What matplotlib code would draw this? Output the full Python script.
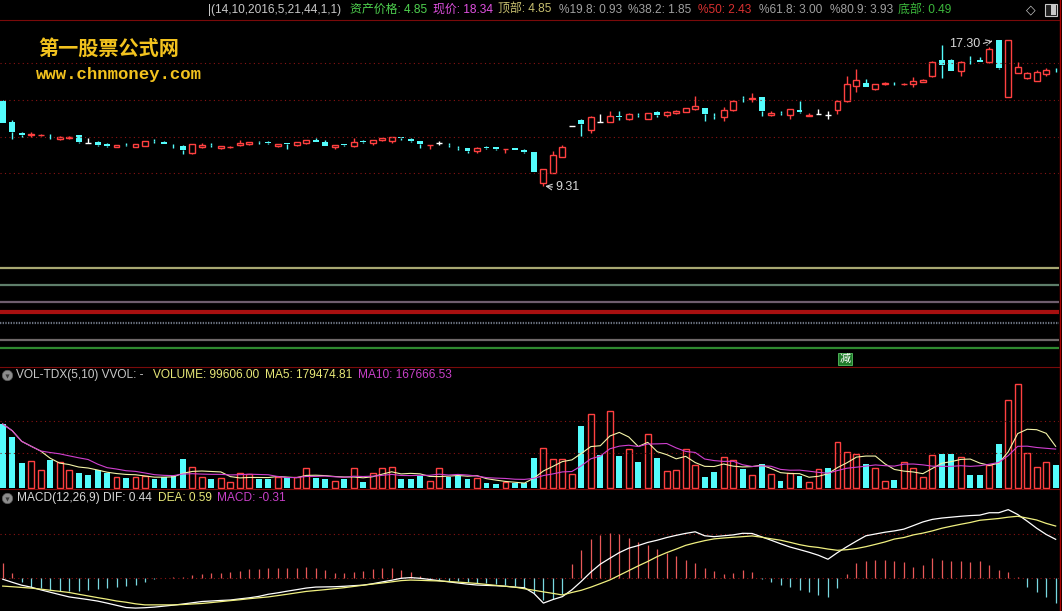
import numpy as np
import pandas as pd
import matplotlib.pyplot as plt
from matplotlib.patches import Rectangle

plt.rcParams['font.family'] = ['Liberation Sans', 'Noto Sans CJK SC', 'DejaVu Sans']

# =========================
# DATA
# =========================
opens = [13.95, 12.79, 12.20, 12.12, 12.09, 12.15, 11.90, 11.91, 12.10, 11.64,
         11.70, 11.63, 11.46, 11.58, 11.46, 11.52, 11.78, 11.74, 11.61, 11.50,
         11.10, 11.44, 11.56, 11.37, 11.45, 11.54, 11.60, 11.71, 11.74, 11.52,
         11.65, 11.54, 11.65, 11.83, 11.72, 11.44, 11.59, 11.49, 11.75, 11.65,
         11.81, 11.75, 11.98, 11.89, 11.75, 11.55, 11.65, 11.57, 11.40, 11.37,
         11.23, 11.42, 11.43, 11.32, 11.39, 11.30, 11.17, 9.47, 10.04, 10.92,
         12.59, 12.92, 12.37, 12.82, 12.82, 13.15, 12.95, 13.19, 12.99, 13.33,
         13.19, 13.28, 13.37, 13.50, 13.55, 13.14, 13.10, 13.46, 14.12, 14.08,
         14.15, 13.17, 13.32, 13.17, 13.46, 13.13, 13.22, 13.21, 13.46, 13.95,
         14.77, 14.91, 14.59, 14.90, 14.98, 14.86, 14.86, 14.97, 15.31, 16.18,
         16.18, 15.58, 16.19, 16.18, 16.06, 17.30, 14.19, 15.49, 15.22, 15.06,
         15.40, 15.55]
closes = [12.77, 12.28, 12.08, 12.16, 12.11, 12.13, 12.01, 12.01, 11.73, 11.64,
          11.56, 11.50, 11.55, 11.56, 11.61, 11.77, 11.76, 11.61, 11.60, 11.28,
          11.61, 11.57, 11.54, 11.50, 11.47, 11.68, 11.72, 11.70, 11.65, 11.61,
          11.63, 11.72, 11.83, 11.71, 11.52, 11.55, 11.57, 11.74, 11.73, 11.83,
          11.94, 11.97, 11.96, 11.78, 11.61, 11.56, 11.65, 11.55, 11.38, 11.25,
          11.41, 11.40, 11.32, 11.33, 11.30, 11.19, 10.10, 10.23, 11.01, 11.43,
          12.59, 12.70, 13.10, 12.82, 13.13, 13.10, 13.22, 13.17, 13.28, 13.20,
          13.35, 13.40, 13.55, 13.68, 13.22, 13.12, 13.46, 13.97, 14.09, 14.11,
          13.42, 13.31, 13.30, 13.50, 13.35, 13.20, 13.22, 13.21, 13.95, 14.86,
          15.10, 14.73, 14.86, 14.93, 14.96, 14.88, 15.06, 15.10, 16.09, 15.89,
          15.60, 16.09, 16.17, 16.10, 16.77, 15.73, 17.25, 15.82, 15.49, 15.51,
          15.62, 15.53]
highs = [14.00, 12.91, 12.28, 12.26, 12.15, 12.15, 12.03, 12.03, 12.12, 11.92,
         11.79, 11.65, 11.57, 11.68, 11.63, 11.79, 11.86, 11.76, 11.61, 11.53,
         11.63, 11.64, 11.64, 11.52, 11.52, 11.83, 11.74, 11.79, 11.79, 11.63,
         11.66, 11.74, 11.85, 11.91, 11.83, 11.57, 11.62, 11.91, 11.82, 11.85,
         11.96, 12.00, 11.98, 11.96, 11.77, 11.57, 11.79, 11.65, 11.50, 11.40,
         11.43, 11.50, 11.45, 11.33, 11.41, 11.36, 11.18, 10.25, 11.24, 11.55,
         12.59, 12.99, 13.13, 13.22, 13.42, 13.42, 13.28, 13.28, 13.32, 13.38,
         13.40, 13.44, 13.58, 14.22, 13.58, 13.32, 13.61, 14.00, 14.22, 14.40,
         14.19, 13.39, 13.42, 13.54, 13.95, 13.28, 13.50, 13.42, 14.00, 15.31,
         15.68, 15.15, 14.90, 15.00, 14.98, 14.91, 15.28, 15.15, 16.12, 17.00,
         16.22, 16.15, 16.40, 16.36, 16.88, 17.30, 17.28, 16.09, 15.53, 15.64,
         15.77, 15.73]
lows = [12.75, 11.86, 11.97, 12.00, 12.05, 11.86, 11.83, 11.88, 11.68, 11.64,
        11.48, 11.43, 11.44, 11.50, 11.44, 11.50, 11.68, 11.59, 11.38, 11.05,
        11.08, 11.39, 11.46, 11.32, 11.41, 11.52, 11.58, 11.61, 11.63, 11.47,
        11.32, 11.52, 11.63, 11.69, 11.50, 11.32, 11.52, 11.47, 11.68, 11.54,
        11.78, 11.65, 11.83, 11.69, 11.38, 11.32, 11.56, 11.46, 11.28, 11.14,
        11.14, 11.32, 11.30, 11.14, 11.28, 11.14, 10.08, 9.31, 10.00, 10.90,
        12.59, 12.04, 12.19, 12.82, 12.80, 12.90, 12.92, 13.06, 12.95, 13.10,
        13.08, 13.24, 13.33, 13.44, 12.88, 12.95, 12.88, 13.42, 13.91, 13.91,
        13.13, 13.13, 13.20, 12.95, 13.31, 13.11, 13.22, 12.97, 13.24, 13.91,
        14.46, 14.70, 14.55, 14.82, 14.82, 14.82, 14.73, 14.97, 15.28, 15.19,
        15.57, 15.33, 15.97, 16.08, 16.03, 15.70, 14.17, 15.46, 15.13, 15.02,
        15.31, 15.53]

volume = [274900, 218000, 109400, 116700, 78200, 121000, 113700, 78200, 64100, 56900,
          78200, 66700, 49600, 45300, 49600, 52600, 41000, 49600, 52600, 125300,
          92300, 49600, 39800, 42800, 25700, 64100, 59900, 38500, 41000, 49600,
          49600, 49600, 85500, 45300, 41000, 31200, 38500, 85500, 28200, 64100,
          85500, 89800, 39800, 39800, 53900, 31200, 85500, 49600, 53900, 38500,
          42800, 21400, 18400, 25700, 21400, 23900, 128300, 171000, 124000, 124000,
          59900, 266300, 317600, 142400, 330500, 138100, 168000, 113700, 232100, 130800,
          75200, 78200, 166700, 99600, 49600, 71000, 132500, 121000, 82500, 56900,
          102600, 59900, 32500, 64100, 53900, 25700, 81200, 85500, 196700, 156500,
          146600, 103900, 85500, 31200, 35500, 111200, 85500, 49600, 142400, 146600,
          146600, 132500, 56900, 56900, 99600, 188391, 377500, 447168, 149600, 89800,
          111200, 99606]

dif = [-0.01, -0.045, -0.078, -0.10, -0.13, -0.157, -0.184, -0.21, -0.225, -0.24,
       -0.257, -0.28, -0.305, -0.33, -0.336, -0.332, -0.325, -0.314, -0.303, -0.29,
       -0.276, -0.262, -0.256, -0.25, -0.245, -0.232, -0.22, -0.204, -0.18, -0.164,
       -0.145, -0.128, -0.11, -0.099, -0.097, -0.095, -0.09, -0.083, -0.077, -0.061,
       -0.041, -0.022, 0.0, 0.008, 0.0, -0.013, -0.027, -0.04, -0.053, -0.066,
       -0.076, -0.08, -0.084, -0.09, -0.10, -0.107, -0.17, -0.28, -0.24, -0.207,
       -0.13, -0.034, 0.07, 0.16, 0.226, 0.29, 0.34, 0.37, 0.405, 0.43,
       0.46, 0.485, 0.507, 0.525, 0.48, 0.47, 0.48, 0.49, 0.508, 0.506,
       0.468, 0.43, 0.39, 0.353, 0.324, 0.294, 0.26, 0.215, 0.29, 0.357,
       0.42, 0.48, 0.50, 0.52, 0.535, 0.555, 0.595, 0.636, 0.665, 0.68,
       0.69, 0.70, 0.708, 0.713, 0.74, 0.74, 0.775, 0.72, 0.645, 0.565,
       0.495, 0.44]
dea = [-0.088, -0.095, -0.103, -0.111, -0.122, -0.135, -0.147, -0.16, -0.18, -0.199,
       -0.218, -0.236, -0.256, -0.27, -0.288, -0.30, -0.30, -0.30, -0.30, -0.296,
       -0.29, -0.284, -0.274, -0.263, -0.252, -0.242, -0.23, -0.22, -0.21, -0.195,
       -0.18, -0.164, -0.148, -0.138, -0.128, -0.117, -0.106, -0.092, -0.078, -0.065,
       -0.053, -0.04, -0.026, -0.02, -0.023, -0.027, -0.03, -0.036, -0.043, -0.05,
       -0.058, -0.069, -0.08, -0.09, -0.10, -0.118, -0.135, -0.153, -0.17, -0.188,
       -0.16, -0.135, -0.10, -0.06, -0.019, 0.034, 0.087, 0.14, 0.19, 0.245,
       0.29, 0.33, 0.372, 0.40, 0.425, 0.445, 0.455, 0.463, 0.47, 0.478,
       0.464, 0.446, 0.43, 0.406, 0.38, 0.36, 0.348, 0.33, 0.316, 0.323,
       0.336, 0.357, 0.383, 0.41, 0.443, 0.46, 0.49, 0.51, 0.535, 0.565,
       0.588, 0.61, 0.63, 0.655, 0.665, 0.675, 0.69, 0.70, 0.68, 0.658,
       0.62, 0.59]
macd_hist = [0.176, 0.056, -0.045, -0.095, -0.115, -0.13, -0.14, -0.14, -0.14, -0.13,
             -0.12, -0.109, -0.098, -0.09, -0.075, -0.04, -0.01, 0.005, 0.01, 0.02,
             0.035, 0.045, 0.056, 0.064, 0.075, 0.087, 0.10, 0.11, 0.113, 0.113,
             0.113, 0.113, 0.13, 0.12, 0.094, 0.064, 0.064, 0.075, 0.087, 0.10,
             0.113, 0.113, 0.094, 0.075, 0.026, -0.01, -0.02, -0.03, -0.035, -0.045,
             -0.056, -0.056, -0.064, -0.075, -0.09, -0.115, -0.17, -0.24, -0.235, -0.18,
             0.165, 0.32, 0.44, 0.49, 0.51, 0.50, 0.45, 0.41, 0.38, 0.33,
             0.28, 0.25, 0.21, 0.17, 0.113, 0.087, 0.05, 0.064, 0.094, 0.075,
             -0.01, -0.038, -0.075, -0.10, -0.13, -0.16, -0.19, -0.21, -0.113, 0.05,
             0.17, 0.19, 0.21, 0.21, 0.19, 0.18, 0.13, 0.15, 0.225, 0.21,
             0.19, 0.19, 0.18, 0.19, 0.15, 0.094, 0.075, 0.01, -0.094, -0.15,
             -0.21, -0.28]

fib_labels = ['顶部', '%80.9', '%61.8', '%50', '%38.2', '%19.8', '底部']
fib_values = [4.85, 3.93, 3.00, 2.43, 1.85, 0.93, 0.49]
price_grid = [16, 14, 12, 10]

formula_params = '14,10,2016,5,21,44,1,1'
asset_price = 4.85
now_price = 18.34
high_mark = 17.30
low_mark = 9.31
reduce_idx = 89

vol_last = 99606.00
vol_ma5_last = 179474.81
vol_ma10_last = 167666.53
dif_last, dea_last, macd_last = 0.44, 0.59, -0.31

# =========================
# FIGURE / LAYOUT
# =========================
W, H = 1062, 611
fig = plt.figure(figsize=(W / 100, H / 100), dpi=100, facecolor='black')

STEP = 9.486      # px per bar
X0 = 2.7          # px of bar 0
PLOT_W = 1059


def box(y0, y1):
    return [0, 1 - y1 / H, PLOT_W / W, (y1 - y0) / H]


def ftext(x, y, s, color, **kw):
    fig.text(x / W, 1 - y / H, s, color=color, ha='left', va='center', **kw)


def icon(x, y):
    fig.add_artist(plt.Line2D([x / W], [1 - y / H], transform=fig.transFigure,
                              marker='o', ms=7.5, mfc='#8c8c8c', mec='#5a5a5a', mew=0.5))
    fig.add_artist(plt.Line2D([x / W], [1 - (y + 0.5) / H], transform=fig.transFigure,
                              marker='v', ms=3, mfc='#3a3a3a', mec='none'))


ax = fig.add_axes(box(20, 366))
axv = fig.add_axes(box(367, 489))
axm = fig.add_axes(box(489, 611))
xl = -X0 / STEP
for a in (ax, axv, axm):
    a.set_facecolor('black')
    a.set_xlim(xl, xl + PLOT_W / STEP)
    a.set_xticks([])
    a.set_yticks([])
    for s in a.spines.values():
        s.set_visible(False)

RED = '#ff4040'
CYAN = '#54fcfc'
GRID = '#8a1414'
dots = (0, (1, 3))

o = np.array(opens)
c = np.array(closes)
h = np.array(highs)
l = np.array(lows)
v = np.array(volume, dtype=float)
x = np.arange(len(c))
bw = 0.62

# =========================
# MAIN PANEL
# =========================
PX_PER_UNIT = 18.35
ax.set_ylim(4.85 - (366 - 268) / PX_PER_UNIT, 4.85 + (268 - 20) / PX_PER_UNIT)

for p in price_grid:
    ax.axhline(p, color=GRID, ls=dots, lw=0.8)

fib_colors = ['#a8a872', '#5e7e6a', '#6e5e6e', '#a81010', '#6c7482', '#6e6868', '#2f8a2f']
fib_lw = [1.6, 1.6, 1.6, 3.0, 1.6, 1.6, 1.6]
fib_ls = ['-', '-', '-', '-', (0, (0.6, 0.6)), '-', '-']
for val, col, lw, ls in zip(fib_values, fib_colors, fib_lw, fib_ls):
    ax.axhline(val, color=col, lw=lw, ls=ls)

up = c > o
dn = c < o
flat = c == o
top = np.maximum(o, c)
bot = np.minimum(o, c)
ccol = np.where(up, RED, np.where(dn, CYAN, 'white'))
ax.vlines(x, top, h, colors=ccol, lw=1)
ax.vlines(x, l, bot, colors=ccol, lw=1)
ax.bar(x[up], (top - bot)[up], bw, bottom=bot[up], facecolor='black', edgecolor=RED, lw=1)
ax.bar(x[dn], (top - bot)[dn], bw, bottom=bot[dn], color=CYAN, lw=0)
ax.hlines(c[flat], x[flat] - bw / 2, x[flat] + bw / 2, colors='white', lw=1)

ihi = int(np.argmax(h))
ilo = int(np.argmin(l))
ax.annotate('', xy=(ihi - 0.35, high_mark - 0.03), xytext=(ihi - 1.9, high_mark - 0.25),
            arrowprops=dict(arrowstyle='->', color='#d0d0d0', lw=0.8, ls='--'))
ax.text(ihi - 1.95, high_mark - 0.25, f'{high_mark:.2f}', color='#d8d8d8',
        fontsize=9, ha='right', va='center')
ax.annotate('', xy=(ilo - 0.1, low_mark + 0.02), xytext=(ilo + 1.25, low_mark - 0.07),
            arrowprops=dict(arrowstyle='->', color='#d0d0d0', lw=0.8))
ax.text(ilo + 1.3, low_mark - 0.07, f'{low_mark:.2f}', color='#d8d8d8',
        fontsize=9, ha='left', va='center')

ax.text(reduce_idx - 0.2, -0.12, '减', color='white', fontsize=8, ha='center', va='center',
        family='Noto Sans CJK SC',
        bbox=dict(boxstyle='square,pad=0.1', facecolor='#1f7a2a', edgecolor='#55c060', lw=0.6))

# watermark
ftext(38, 48, '第一股票公式网', '#f2c21e', fontsize=14.5, fontweight='bold',
      family='Noto Sans CJK SC')
ftext(36, 74, 'www.chnmoney.com', '#f2c21e', fontsize=12.5, fontweight='bold',
      family='Liberation Mono')

# header row
hdr = [
    (208, f'|({formula_params})', '#c8c8c8'),
    (350, f'资产价格: {asset_price:.2f}', '#4fd24f'),
    (433, f'现价: {now_price:.2f}', '#e050e0'),
    (498, f'{fib_labels[0]}: {fib_values[0]:.2f}', '#c8c070'),
    (559, f'{fib_labels[5]}: {fib_values[5]:.2f}', '#a0a0a0'),
    (628, f'{fib_labels[4]}: {fib_values[4]:.2f}', '#a0a0a0'),
    (698, f'{fib_labels[3]}: {fib_values[3]:.2f}', '#d83030'),
    (759, f'{fib_labels[2]}: {fib_values[2]:.2f}', '#a0a0a0'),
    (830, f'{fib_labels[1]}: {fib_values[1]:.2f}', '#a0a0a0'),
    (898, f'{fib_labels[6]}: {fib_values[6]:.2f}', '#3cb83c'),
]
for xp, s, col in hdr:
    ftext(xp, 10, s, col, fontsize=8.6)
ftext(1026, 10, '◇', '#c8c8c8', fontsize=9, family='DejaVu Sans')
fig.add_artist(Rectangle((1045 / W, 1 - 16 / H), 12 / W, 12 / H, transform=fig.transFigure,
                         facecolor='#202020', edgecolor='#c8c8c8', lw=0.8))
fig.add_artist(Rectangle((1051 / W, 1 - 15 / H), 5 / W, 10 / H, transform=fig.transFigure,
                         facecolor='#c8c8c8', edgecolor='none'))

# =========================
# VOLUME PANEL
# =========================
VPX = vol_last / 23.3
axv.set_ylim(-(489 - 488.3) * VPX, (488.3 - 367) * VPX)
for g in (67.6, 35.0):
    axv.axhline(g * VPX, color=GRID, ls=dots, lw=0.8)

prev = np.r_[c[0], c[:-1]]
vup = up | (flat & (c >= prev))
axv.bar(x[vup], v[vup], bw, facecolor='black', edgecolor=RED, lw=1)
axv.bar(x[~vup], v[~vup], bw, color=CYAN, lw=0)
ma5 = pd.Series(v).rolling(5, min_periods=1).mean()
ma10 = pd.Series(v).rolling(10, min_periods=1).mean()
axv.plot(x, ma5, color='#f4f4a8', lw=0.8)
axv.plot(x, ma10, color='#d040d0', lw=0.8)

icon(7, 375)
ftext(16, 375, 'VOL-TDX(5,10) VVOL: -', '#c8c8c8', fontsize=8.6)
ftext(153, 375, f'VOLUME: {vol_last:.2f}', '#e8e878', fontsize=8.6)
ftext(265, 375, f'MA5: {vol_ma5_last:.2f}', '#e8e878', fontsize=8.6)
ftext(358, 375, f'MA10: {vol_ma10_last:.2f}', '#c840c8', fontsize=8.6)

# =========================
# MACD PANEL
# =========================
MPX = 88.6
axm.set_ylim(-(611 - 578.3) / MPX, (578.3 - 489) / MPX)
axm.axhline(0, color=GRID, ls=dots, lw=0.8)
axm.axhline(0.5, color=GRID, ls=dots, lw=0.8)
hist = np.array(macd_hist)
axm.vlines(x, 0, hist, colors=np.where(hist >= 0, '#e85858', '#78d8e0'), lw=0.9)
axm.plot(x, dif, color='white', lw=0.9)
axm.plot(x, dea, color='#f0f080', lw=0.9)

icon(7, 498)
ftext(17, 498, f'MACD(12,26,9) DIF: {dif_last:.2f}', '#d8d8d8', fontsize=8.6)
ftext(158, 498, f'DEA: {dea_last:.2f}', '#e8e878', fontsize=8.6)
ftext(217, 498, f'MACD: {macd_last:.2f}', '#c840c8', fontsize=8.6)

# frame lines
for yy in (20, 366.5, 489):
    fig.add_artist(plt.Line2D([0, PLOT_W / W], [1 - yy / H] * 2, transform=fig.transFigure,
                              color='#7a0a0a', lw=0.8))
fig.add_artist(plt.Line2D([1059.5 / W] * 2, [0, 1], transform=fig.transFigure,
                          color='#b00000', lw=1))

fig.savefig('out.png', dpi=100, facecolor='black')
